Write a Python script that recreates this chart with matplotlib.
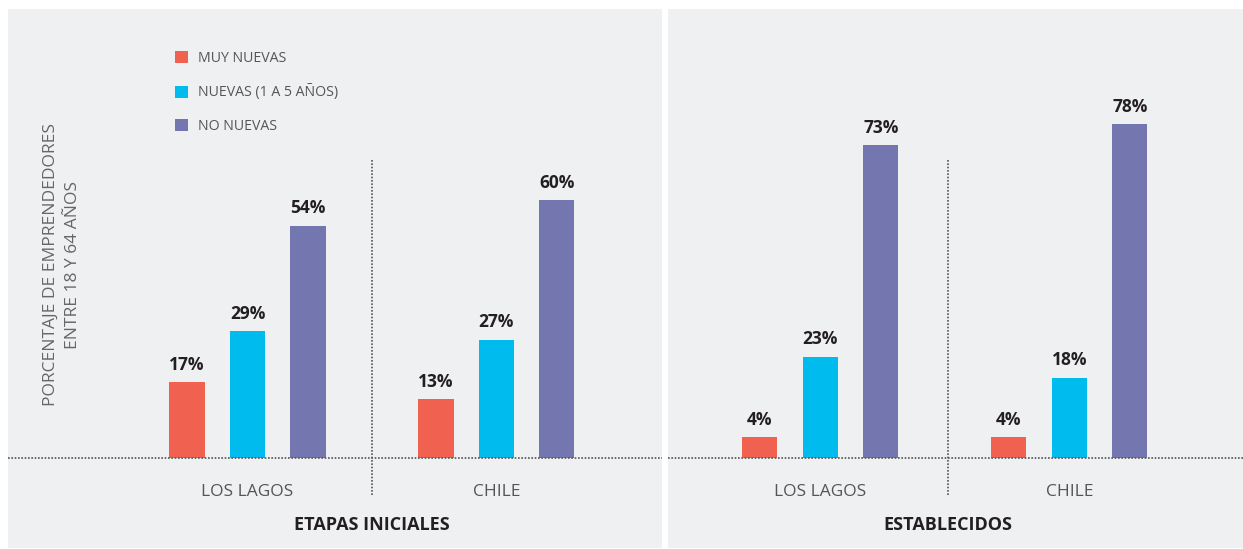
import matplotlib.pyplot as plt
import matplotlib as mpl
from matplotlib.patches import Patch

plt.rcParams['font.family'] = ['Open Sans', 'DejaVu Sans']

# data
regions = ['LOS LAGOS', 'CHILE']
series = ['MUY NUEVAS', 'NUEVAS (1 A 5 AÑOS)', 'NO NUEVAS']
colors = ['#F06150', '#00BBEE', '#7476B0']
panels = ['ETAPAS INICIALES', 'ESTABLECIDOS']

inicial_muy_nuevas = [17, 13]
inicial_nuevas = [29, 27]
inicial_no_nuevas = [54, 60]

estab_muy_nuevas = [4, 4]
estab_nuevas = [23, 18]
estab_no_nuevas = [73, 78]

panel_data = [
    [inicial_muy_nuevas, inicial_nuevas, inicial_no_nuevas],
    [estab_muy_nuevas, estab_nuevas, estab_no_nuevas],
]

W, H = 1243, 549
fig = plt.figure(figsize=(W / 100, H / 100), dpi=100)
fig.patch.set_facecolor('white')

# panel boxes in pixels (left, right)
boxes = [(8, 662), (668, 1243)]
xlims = [(-0.962, 1.665), (-0.612, 1.697)]
seps = [0.5, 0.512]
top_px, bot_px = 9, 548
ylim = (-22.25, 105.2)
base = -0.97  # the bars start a little below zero in the original

offset = 0.243
width = 0.141

for p, (box, xl) in enumerate(zip(boxes, xlims)):
    ax = fig.add_axes([box[0] / W, 1 - bot_px / H, (box[1] - box[0]) / W, (bot_px - top_px) / H])
    ax.set_facecolor('#EFF0F2')
    for s in ax.spines.values():
        s.set_visible(False)
    ax.set_xticks([])
    ax.set_yticks([])
    ax.set_xlim(*xl)
    ax.set_ylim(*ylim)

    for i, vals in enumerate(panel_data[p]):
        xs = [g + (i - 1) * offset for g in range(len(regions))]
        ax.bar(xs, [v - base for v in vals], bottom=base, width=width, color=colors[i], zorder=2)
        for x, v in zip(xs, vals):
            ax.annotate('%d%%' % v, (x, v), textcoords='offset points', xytext=(0, 6),
                        ha='center', va='bottom', fontsize=12.5, fontweight='bold', color='#231F20')

    # baseline and separator
    ax.axhline(base, color='#555555', lw=1.2, ls=(0, (1, 1)), zorder=3)
    ax.plot([seps[p], seps[p]], [-9.7, 69.5], color='#555555', lw=1.2, ls=(0, (1, 1)))

    for g, name in enumerate(regions):
        ax.text(g, -8.9, name, ha='center', va='center', fontsize=12.5, color='#555555')
    ax.text(seps[p], -16.9, panels[p], ha='center', va='center', fontsize=13,
            fontweight='bold', color='#231F20')

    if p == 0:
        handles = [Patch(facecolor=c, edgecolor='none') for c in colors]
        leg = ax.legend(handles, series, loc='upper left', bbox_to_anchor=(175 / W, 1 - 51 / H),
                        bbox_transform=fig.transFigure, frameon=False, fontsize=10.2,
                        handlelength=0.93, handleheight=0.93, handletextpad=0.72,
                        labelspacing=1.3, borderpad=0, borderaxespad=0)
        for t in leg.get_texts():
            t.set_color('#555555')

fig.text(62 / W, 1 - 265 / H, 'PORCENTAJE DE EMPRENDEDORES\nENTRE 18 Y 64 AÑOS', rotation=90,
         ha='center', va='center', fontsize=12.5, color='#666666', linespacing=1.45)

fig.savefig('out.png', dpi=100, facecolor='white')
